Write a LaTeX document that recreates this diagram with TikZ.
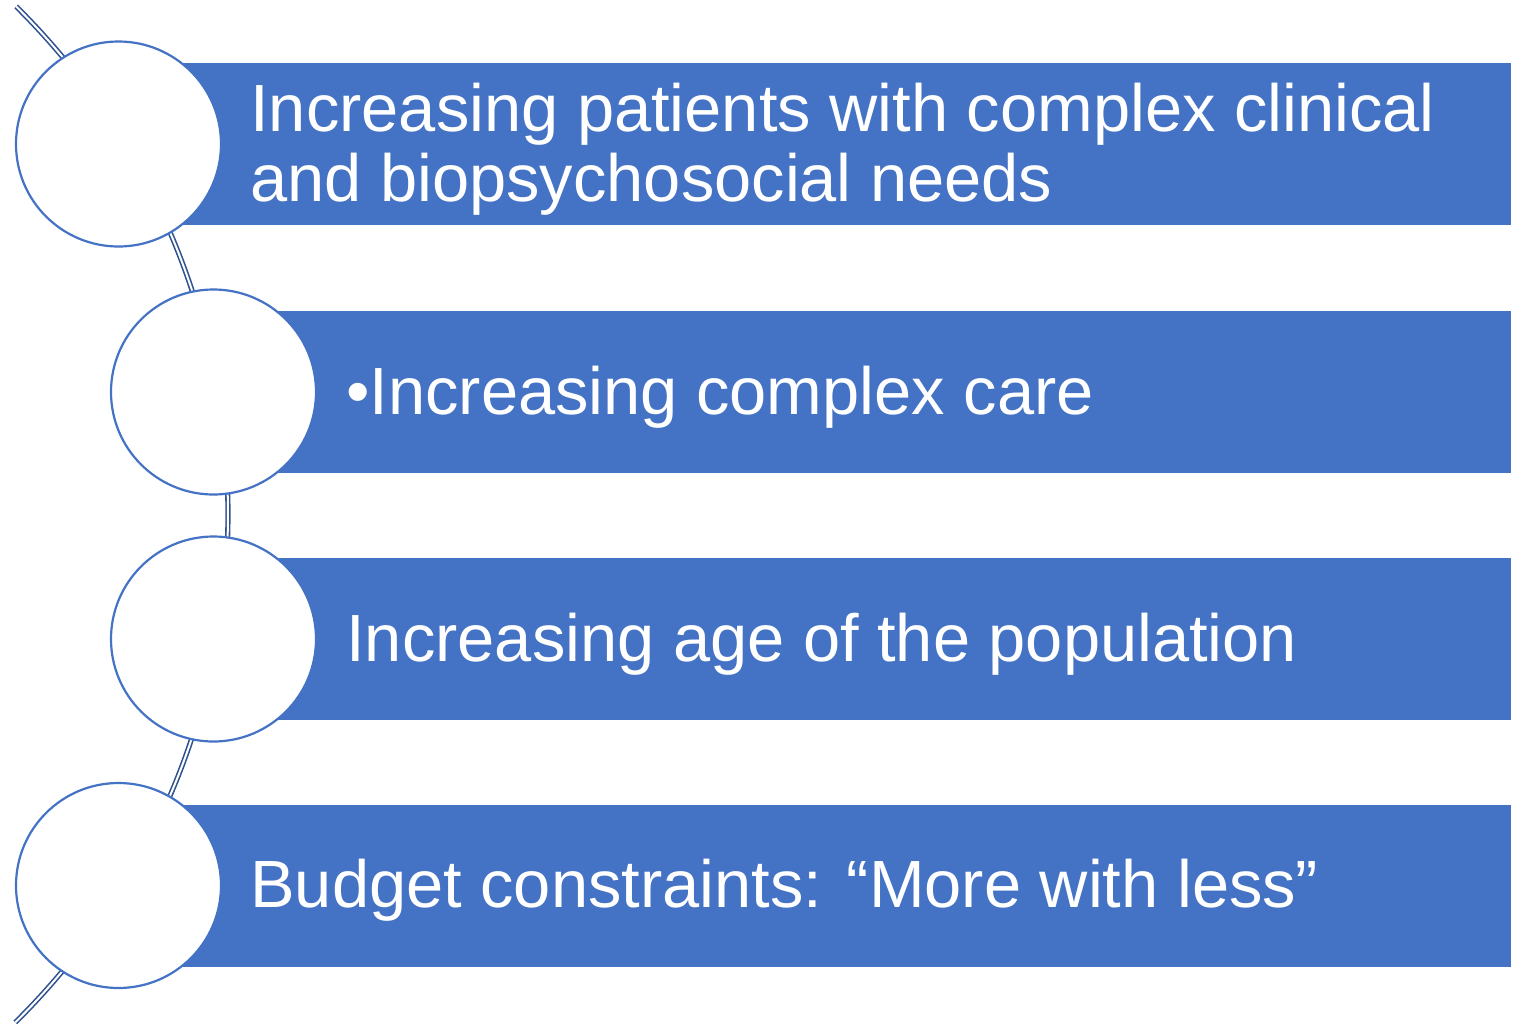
\documentclass[tikz,border=0pt]{standalone}
\usepackage{fontspec}
\setmainfont{Liberation Sans}
\definecolor{barblue}{HTML}{4472C4}
\definecolor{arcblue}{HTML}{2F528F}
\begin{document}
\begin{tikzpicture}[x=0.5pt,y=0.5pt,
  bar/.style={draw=none,fill=barblue,anchor=north west,minimum height=81pt,inner sep=0pt,outer sep=0pt},
  ring/.style={circle,draw=barblue,line width=1.1pt,fill=white,minimum size=102.5pt,inner sep=0pt},
  label/.style={text=white,font=\fontsize{33.4}{35}\selectfont,align=left,inner sep=0pt,anchor=west},
  arcline/.style={draw=arcblue,line width=0.8pt,double=white,double distance=1pt}]
\useasboundingbox (0,0) rectangle (1516,-1024);
\coordinate (ctr) at (-486,-514);
\draw[arcline] (ctr) ++(45.3:714) arc (45.3:-45.4:714);
% bars
\node[bar,minimum width={(1511-119)*0.5pt}] (bar1) at (119,-63) {};
\node[bar,minimum width={(1511-213)*0.5pt}] (bar2) at (213,-311) {};
\node[bar,minimum width={(1511-213)*0.5pt}] (bar3) at (213,-558) {};
\node[bar,minimum width={(1511-119)*0.5pt}] (bar4) at (119,-805) {};
% circles
\node[ring] (c1) at (118.5,-144) {};
\node[ring] (c2) at (213.5,-392) {};
\node[ring] (c3) at (213.5,-639) {};
\node[ring] (c4) at (118.5,-885.5) {};
% texts
\node[label] (t1) at (250,-149) {Increasing patients with complex clinical\\and biopsychosocial needs};
\node[label,anchor=base west] (t2) at (346,-414) {•Increasing complex care};
\node[label,anchor=base west] (t3) at (346,-661) {Increasing age of the population};
\node[label,anchor=base west] (t4) at (250,-907) {Budget constraints: “More with less”};
\end{tikzpicture}
\end{document}
